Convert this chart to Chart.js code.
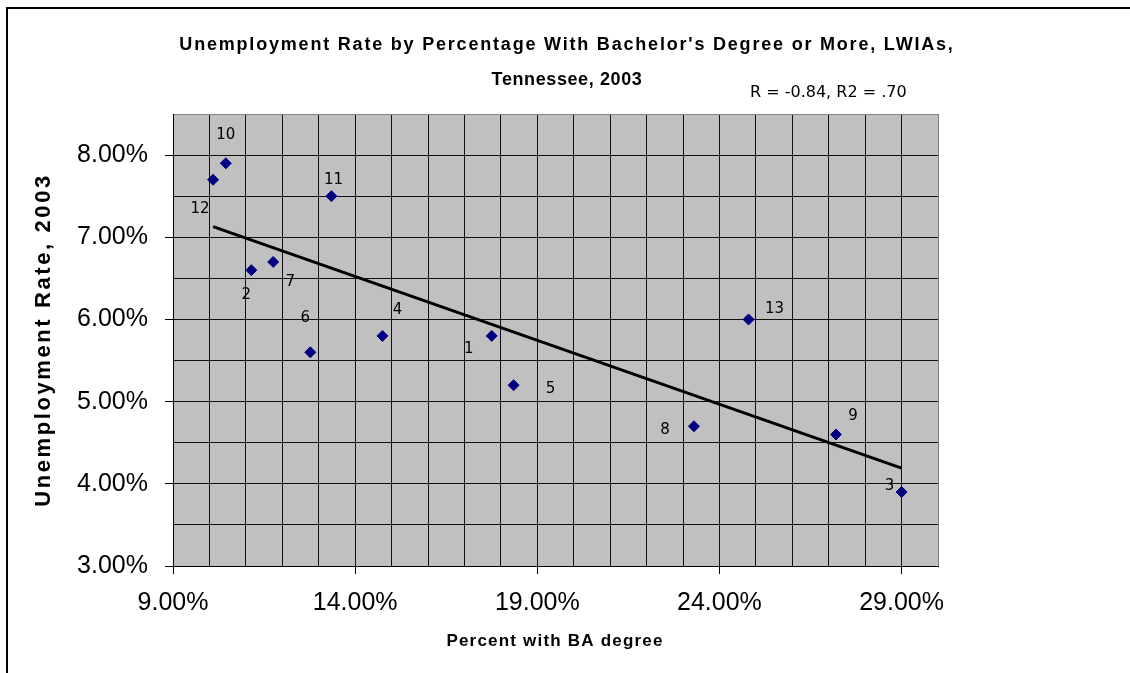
<!DOCTYPE html>
<html>
<head>
<meta charset="utf-8">
<title>Unemployment Rate by Percentage With Bachelor's Degree</title>
<script src="https://cdn.jsdelivr.net/npm/chart.js@4.4.1/dist/chart.umd.min.js"></script>
<style>
  html, body { margin: 0; padding: 0; background: #fff; }
  canvas { display: block; }
</style>
</head>
<body>
<canvas id="lwiaChart" width="1130" height="673"></canvas>
<script>
// LWIA numbers, % with BA degree and unemployment rate (both in percent)
const lwiaNames = ['1', '2', '3', '4', '5', '6', '7', '8', '9', '10', '11', '12', '13'];
const baPercent = [17.75, 11.15, 29.0, 14.75, 18.35, 12.77, 11.75, 23.3, 27.2, 10.45, 13.35, 10.1, 24.8];
const unemploymentRate = [5.8, 6.6, 3.9, 5.8, 5.2, 5.6, 6.7, 4.7, 4.6, 7.9, 7.5, 7.7, 6.0];

// linear trend line end points
const trendX = [10.1, 29.0];
const trendY = [7.13, 4.19];

const xTickLabels = [9, 14, 19, 24, 29];
const yTickLabels = [3, 4, 5, 6, 7, 8];

const titleLines = ['Unemployment Rate by Percentage With Bachelor\'s Degree or More, LWIAs,', 'Tennessee, 2003'];
const statsText = 'R = -0.84, R2 = .70';
const xTitle = 'Percent with BA degree';
const yTitle = 'Unemployment Rate, 2003';

// where each point's number sits relative to its marker
const labelOffsets = {
  '1': [-23, 13], '2': [-5, 25], '3': [-12, -6], '4': [15, -26], '5': [37, 4],
  '6': [-5, -34], '7': [17, 20], '8': [-29, 4], '9': [17, -18], '10': [0, -28],
  '11': [2, -16], '12': [-13, 29], '13': [26, -10]
};

const points = baPercent.map((x, i) => ({ x: x, y: unemploymentRate[i] }));
const trend = trendX.map((x, i) => ({ x: x, y: trendY[i] }));

const plotBackground = {
  id: 'plotBackground',
  beforeDraw(chart) {
    const { ctx, chartArea: a } = chart;
    ctx.save();
    ctx.fillStyle = '#c0c0c0';
    ctx.fillRect(a.left, a.top, a.right - a.left, a.bottom - a.top);
    ctx.restore();
  }
};

const pointNumbers = {
  id: 'pointNumbers',
  afterDatasetsDraw(chart) {
    const { ctx } = chart;
    const meta = chart.getDatasetMeta(1);
    ctx.save();
    ctx.font = '15px "DejaVu Sans"';
    ctx.fillStyle = '#000';
    ctx.textAlign = 'center';
    ctx.textBaseline = 'middle';
    meta.data.forEach((el, i) => {
      const name = lwiaNames[i];
      const off = labelOffsets[name] || [0, -15];
      ctx.fillText(name, el.x + off[0], el.y + off[1]);
    });
    ctx.restore();
  }
};

const textLayer = {
  id: 'textLayer',
  afterDraw(chart) {
    const { ctx } = chart;
    ctx.save();
    ctx.fillStyle = '#000';
    ctx.textBaseline = 'middle';
    ctx.textAlign = 'center';

    ctx.font = 'bold 18px "Liberation Sans", Arial, sans-serif';
    ctx.letterSpacing = '1.8px';
    ctx.fillText(titleLines[0], 567, 45);
    ctx.letterSpacing = '0.6px';
    ctx.fillText(titleLines[1], 567, 80);

    ctx.font = 'bold 17px "Liberation Sans", Arial, sans-serif';
    ctx.letterSpacing = '1.2px';
    ctx.fillText(xTitle, 555, 641);

    ctx.save();
    ctx.translate(44, 340);
    ctx.rotate(-Math.PI / 2);
    ctx.font = 'bold 22px "Liberation Sans", Arial, sans-serif';
    ctx.letterSpacing = '2.6px';
    ctx.fillText(yTitle, 0, 0);
    ctx.restore();

    ctx.letterSpacing = '0px';
    ctx.font = '16px "DejaVu Sans"';
    ctx.textAlign = 'left';
    ctx.fillText(statsText, 750, 93);

    // outer frame, top and left edges
    ctx.strokeStyle = '#000';
    ctx.lineWidth = 2;
    ctx.beginPath();
    ctx.moveTo(7, 673);
    ctx.lineTo(7, 8);
    ctx.lineTo(1130, 8);
    ctx.stroke();
    ctx.restore();
  }
};

new Chart(document.getElementById('lwiaChart'), {
  type: 'scatter',
  data: {
    datasets: [
      {
        type: 'line',
        label: 'Linear trend',
        data: trend,
        borderColor: '#000',
        borderWidth: 3,
        pointRadius: 0,
        fill: false
      },
      {
        label: 'LWIAs',
        data: points,
        pointStyle: 'rectRot',
        pointRadius: 5.5,
        pointHoverRadius: 5.5,
        backgroundColor: '#000080',
        borderColor: '#000080',
        borderWidth: 1
      }
    ]
  },
  options: {
    responsive: false,
    animation: false,
    events: [],
    layout: { padding: { top: 114, right: 192, bottom: 0, left: 0 } },
    plugins: {
      legend: { display: false },
      title: { display: false },
      tooltip: { enabled: false }
    },
    scales: {
      x: {
        type: 'linear',
        min: 9,
        max: 30,
        afterFit(scale) { scale.height = 107; },
        border: { color: '#000', width: 1 },
        grid: {
          color: c => c.tick && c.tick.value === 30 ? '#808080' : '#111',
          tickLength: 8,
          tickColor: c => xTickLabels.includes(c.tick.value) ? '#000' : 'rgba(0,0,0,0)'
        },
        ticks: {
          stepSize: 1,
          autoSkip: false,
          maxRotation: 0,
          padding: 14,
          color: '#000',
          font: { family: '"Liberation Sans", Arial, sans-serif', size: 25 },
          callback: v => xTickLabels.includes(v) ? v.toFixed(2) + '%' : ''
        }
      },
      y: {
        type: 'linear',
        min: 3,
        max: 8.5,
        afterFit(scale) { scale.width = 173; },
        border: { color: '#000', width: 1 },
        grid: {
          color: c => c.tick && c.tick.value === 8.5 ? '#808080' : '#111',
          tickLength: 8,
          tickColor: c => yTickLabels.includes(c.tick.value) ? '#000' : 'rgba(0,0,0,0)'
        },
        ticks: {
          stepSize: 0.5,
          autoSkip: false,
          padding: 17,
          color: '#000',
          font: { family: '"Liberation Sans", Arial, sans-serif', size: 25 },
          callback: v => yTickLabels.includes(v) ? v.toFixed(2) + '%' : ''
        }
      }
    }
  },
  plugins: [plotBackground, pointNumbers, textLayer]
});
</script>
</body>
</html>
